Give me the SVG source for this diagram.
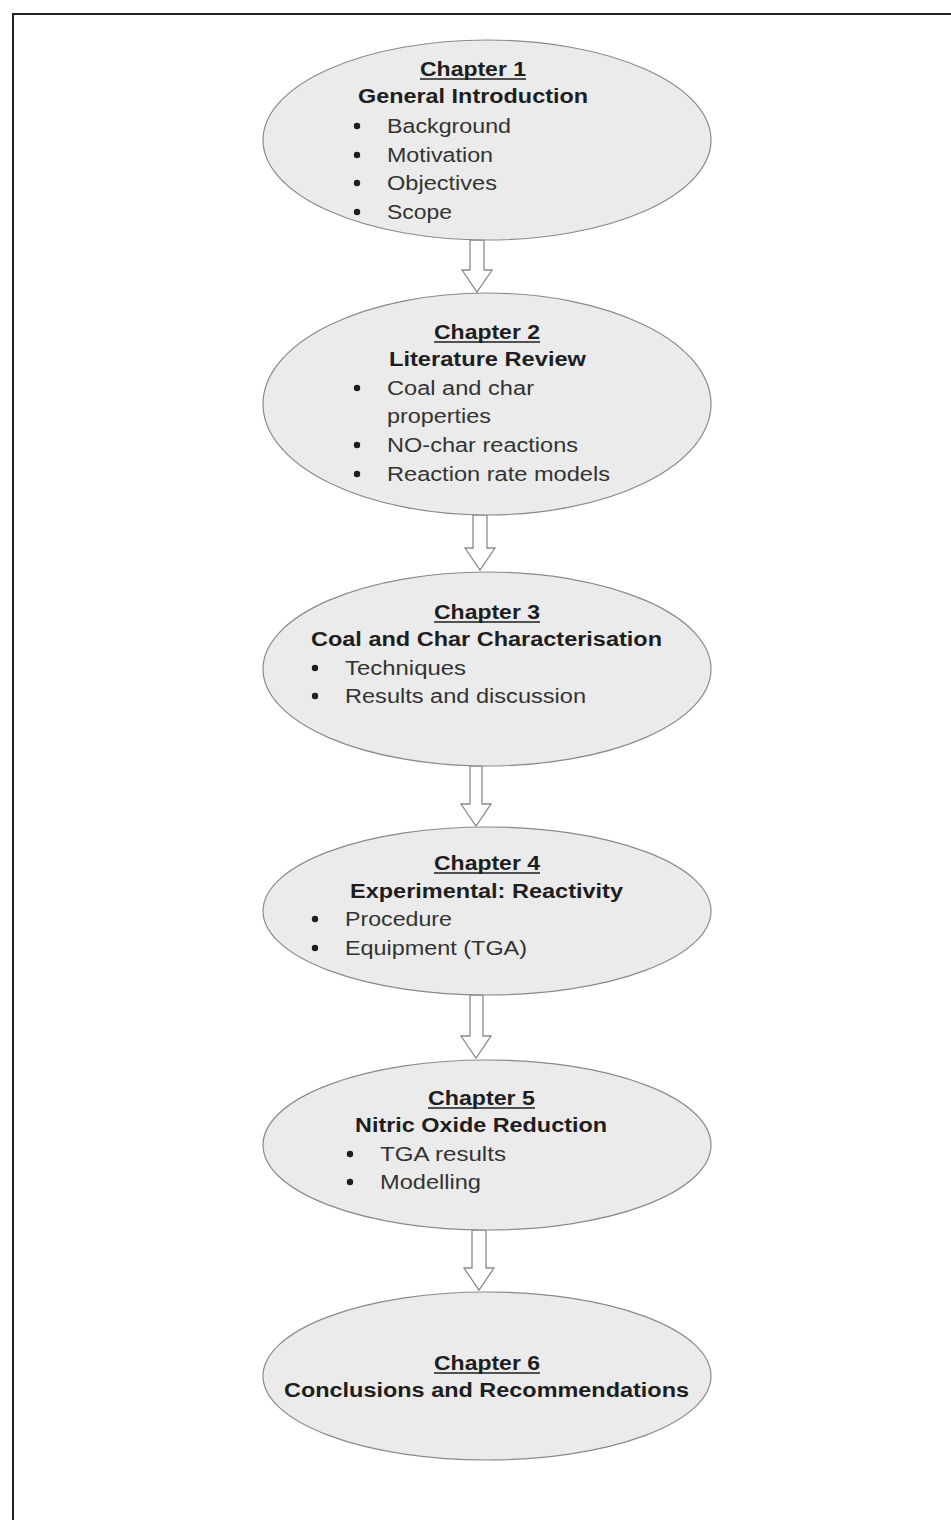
<svg xmlns="http://www.w3.org/2000/svg" width="951" height="1520" viewBox="0 0 951 1520">
<style>
.bg{fill:#ffffff}
.frame{stroke:#222;stroke-width:2;fill:none}
.node ellipse{fill:#ebebeb;stroke:#8a8a8a;stroke-width:1.2}
.t{font-family:"Liberation Sans",Arial,sans-serif;font-size:20px;fill:#1e1e1e}
.h{font-weight:bold;text-anchor:start}
.b{fill:#333}
.ul{stroke:#1e1e1e;stroke-width:1.6}
.dot{fill:#1e1e1e}
.arrow{fill:#ffffff;stroke:#8a8a8a;stroke-width:1.3;stroke-linejoin:miter}
</style>
<rect class="bg" x="0" y="0" width="951" height="1520"/>
<path class="frame" d="M13,1520 V14 H951"/>

<g id="connectors">
<polygon class="arrow" points="470,240 484,240 484,270 492,270 477,292 462,270 470,270"/>
<polygon class="arrow" points="473,515 487,515 487,548 495,548 480,570 465,548 473,548"/>
<polygon class="arrow" points="470,766 482,766 482,804 491,804 476,826 461,804 470,804"/>
<polygon class="arrow" points="470,995 483,995 483,1036 491,1036 476,1058 461,1036 470,1036"/>
<polygon class="arrow" points="472,1230 486,1230 486,1268 494,1268 479,1290 464,1268 472,1268"/>
</g>

<g id="ch1" class="node">
<ellipse cx="487" cy="140" rx="224" ry="100"/>
<text class="t h" x="420" y="76" textLength="106" lengthAdjust="spacingAndGlyphs">Chapter 1</text>
<line class="ul" x1="420" y1="79" x2="526" y2="79"/>
<text class="t h" x="358" y="103" textLength="230" lengthAdjust="spacingAndGlyphs">General Introduction</text>
<circle class="dot" cx="357" cy="126" r="3.2"/>
<circle class="dot" cx="357" cy="155" r="3.2"/>
<circle class="dot" cx="357" cy="183" r="3.2"/>
<circle class="dot" cx="357" cy="212" r="3.2"/>
<text class="t b" x="387" y="133" textLength="124" lengthAdjust="spacingAndGlyphs">Background</text>
<text class="t b" x="387" y="162" textLength="106" lengthAdjust="spacingAndGlyphs">Motivation</text>
<text class="t b" x="387" y="190" textLength="110" lengthAdjust="spacingAndGlyphs">Objectives</text>
<text class="t b" x="387" y="219" textLength="65" lengthAdjust="spacingAndGlyphs">Scope</text>
</g>

<g id="ch2" class="node">
<ellipse cx="487" cy="404" rx="224" ry="111"/>
<text class="t h" x="434" y="339" textLength="106" lengthAdjust="spacingAndGlyphs">Chapter 2</text>
<line class="ul" x1="434" y1="342" x2="540" y2="342"/>
<text class="t h" x="389" y="366" textLength="197" lengthAdjust="spacingAndGlyphs">Literature Review</text>
<circle class="dot" cx="357" cy="388" r="3.2"/>
<circle class="dot" cx="357" cy="445" r="3.2"/>
<circle class="dot" cx="357" cy="474" r="3.2"/>
<text class="t b" x="387" y="395" textLength="147" lengthAdjust="spacingAndGlyphs">Coal and char</text>
<text class="t b" x="387" y="423" textLength="104" lengthAdjust="spacingAndGlyphs">properties</text>
<text class="t b" x="387" y="452" textLength="191" lengthAdjust="spacingAndGlyphs">NO-char reactions</text>
<text class="t b" x="387" y="481" textLength="223" lengthAdjust="spacingAndGlyphs">Reaction rate models</text>
</g>

<g id="ch3" class="node">
<ellipse cx="487" cy="669" rx="224" ry="97"/>
<text class="t h" x="434" y="619" textLength="106" lengthAdjust="spacingAndGlyphs">Chapter 3</text>
<line class="ul" x1="434" y1="622" x2="540" y2="622"/>
<text class="t h" x="311" y="646" textLength="351" lengthAdjust="spacingAndGlyphs">Coal and Char Characterisation</text>
<circle class="dot" cx="315" cy="668" r="3.2"/>
<circle class="dot" cx="315" cy="696" r="3.2"/>
<text class="t b" x="345" y="675" textLength="121" lengthAdjust="spacingAndGlyphs">Techniques</text>
<text class="t b" x="345" y="703" textLength="241" lengthAdjust="spacingAndGlyphs">Results and discussion</text>
</g>

<g id="ch4" class="node">
<ellipse cx="487" cy="911" rx="224" ry="84"/>
<text class="t h" x="434" y="870" textLength="106" lengthAdjust="spacingAndGlyphs">Chapter 4</text>
<line class="ul" x1="434" y1="873" x2="540" y2="873"/>
<text class="t h" x="350" y="898" textLength="273" lengthAdjust="spacingAndGlyphs">Experimental: Reactivity</text>
<circle class="dot" cx="315" cy="919" r="3.2"/>
<circle class="dot" cx="315" cy="948" r="3.2"/>
<text class="t b" x="345" y="926" textLength="107" lengthAdjust="spacingAndGlyphs">Procedure</text>
<text class="t b" x="345" y="955" textLength="182" lengthAdjust="spacingAndGlyphs">Equipment (TGA)</text>
</g>

<g id="ch5" class="node">
<ellipse cx="487" cy="1145" rx="224" ry="85"/>
<text class="t h" x="428" y="1105" textLength="107" lengthAdjust="spacingAndGlyphs">Chapter 5</text>
<line class="ul" x1="428" y1="1108" x2="535" y2="1108"/>
<text class="t h" x="355" y="1132" textLength="252" lengthAdjust="spacingAndGlyphs">Nitric Oxide Reduction</text>
<circle class="dot" cx="350" cy="1154" r="3.2"/>
<circle class="dot" cx="350" cy="1182" r="3.2"/>
<text class="t b" x="380" y="1161" textLength="126" lengthAdjust="spacingAndGlyphs">TGA results</text>
<text class="t b" x="380" y="1189" textLength="101" lengthAdjust="spacingAndGlyphs">Modelling</text>
</g>

<g id="ch6" class="node">
<ellipse cx="487" cy="1376" rx="224" ry="84"/>
<text class="t h" x="434" y="1370" textLength="106" lengthAdjust="spacingAndGlyphs">Chapter 6</text>
<line class="ul" x1="434" y1="1373" x2="540" y2="1373"/>
<text class="t h" x="284" y="1397" textLength="405" lengthAdjust="spacingAndGlyphs">Conclusions and Recommendations</text>
</g>
</svg>
